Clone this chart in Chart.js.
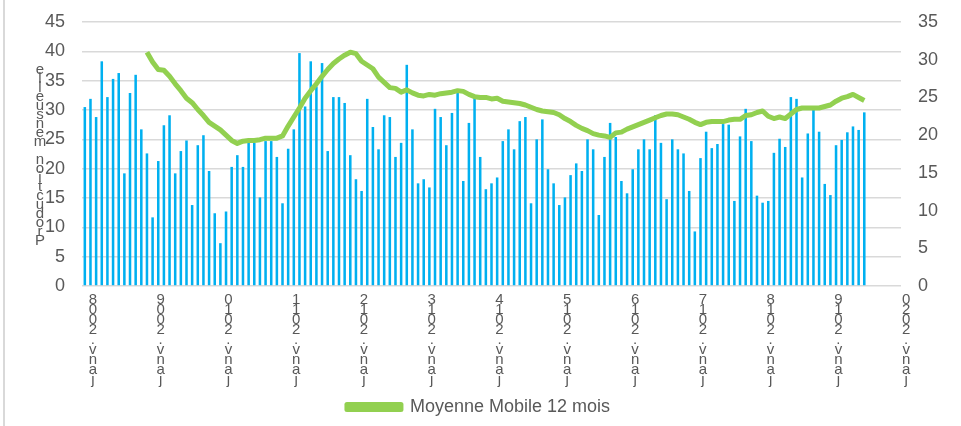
<!DOCTYPE html>
<html>
<head>
<meta charset="utf-8">
<script src="https://cdn.jsdelivr.net/npm/chart.js@4.4.1/dist/chart.umd.min.js"></script>
<style>
  html, body { margin: 0; padding: 0; background: #ffffff; }
  #wrap { position: relative; width: 961px; height: 426px; }
  #edge { position: absolute; left: 3px; top: 0; width: 2px; height: 426px; background: #d9d9d9; }
  canvas { position: absolute; left: 0; top: 0; }
</style>
</head>
<body>
<div id="wrap">
  <canvas id="c" width="961" height="426"></canvas>
  <div id="edge"></div>
</div>
<script>
// ---- data ----
const years = ['2008','2009','2010','2011','2012','2013','2014','2015','2016','2017','2018','2019','2020'];
const months = ['janv.','févr.','mars','avr.','mai','juin','juil.','août','sept.','oct.','nov.','déc.'];
const yTitle = 'Production mensuelle';
const lineLabel = 'Moyenne Mobile 12 mois';
const barLabel = 'Production mensuelle';

// monthly production (left axis), Jan 2008 .. Jul 2019
const production = [
  30.5, 31.9, 28.8, 38.3, 32.2, 35.3, 36.3, 19.2, 32.9, 36.0, 26.7, 22.6,
  11.7, 21.3, 27.4, 29.1, 19.2, 23.0, 24.8, 13.8, 24.0, 25.7, 19.6, 12.4,
  7.3, 12.7, 20.3, 22.3, 20.3, 24.4, 24.4, 15.1, 24.7, 24.7, 22.0, 14.1,
  23.4, 26.7, 39.7, 30.6, 38.3, 34.0, 38.0, 23.0, 32.2, 32.2, 31.2, 22.3,
  18.2, 16.2, 31.9, 27.1, 23.3, 29.1, 28.8, 22.0, 24.4, 37.7, 26.7, 17.5,
  18.2, 16.8, 30.2, 28.8, 24.0, 29.5, 33.0, 17.9, 27.8, 32.0, 22.0, 16.5,
  17.5, 18.5, 24.7, 26.7, 23.3, 28.1, 28.8, 14.1, 25.0, 28.4, 19.9, 17.5,
  13.8, 15.1, 18.9, 20.9, 19.6, 25.0, 23.3, 12.1, 22.0, 27.8, 25.4, 17.9,
  15.8, 19.9, 23.3, 25.0, 23.3, 29.1, 24.4, 14.8, 25.0, 23.3, 22.6, 16.2,
  9.3, 21.8, 26.3, 23.5, 24.2, 27.6, 27.5, 14.5, 25.5, 30.2, 24.7, 15.4,
  14.2, 14.5, 22.7, 25.1, 23.7, 32.2, 31.9, 18.5, 26.0, 30.0, 26.3, 17.4,
  15.5, 24.0, 24.9, 26.2, 27.2, 26.6, 29.6
];

// 12-month moving average (right axis), Dec 2008 .. Jul 2019
const movingAvgStart = 11; // first month index with a value (déc. 2008)
const movingAvg = [
  31.0,
  29.7, 28.7, 28.6, 27.8, 26.8, 25.9, 24.9, 24.3, 23.4, 22.6, 21.7, 21.2,
  20.7, 20.0, 19.3, 18.9, 19.2, 19.3, 19.3, 19.4, 19.6, 19.6, 19.6, 19.9,
  21.2, 22.4, 23.6, 24.9, 25.9, 26.8, 27.8, 28.7, 29.5, 30.1, 30.6, 31.0,
  30.8, 29.8, 29.3, 28.8, 27.7, 27.0, 26.3, 26.2, 25.7, 26.0, 25.6, 25.3,
  25.2, 25.4, 25.3, 25.5, 25.6, 25.7, 25.9, 25.8, 25.4, 25.1, 25.0, 25.0,
  24.8, 24.9, 24.5, 24.4, 24.3, 24.2, 24.0, 23.7, 23.4, 23.2, 23.1, 23.0,
  22.7, 22.2, 21.8, 21.3, 20.9, 20.6, 20.2, 20.0, 19.9, 19.7, 20.3, 20.4,
  20.8, 21.1, 21.4, 21.7, 22.0, 22.3, 22.6, 22.8, 22.8, 22.7, 22.4, 22.1,
  21.7, 21.4, 21.7, 21.8, 21.8, 21.8, 22.0, 22.1, 22.1, 22.6, 22.7, 23.0,
  23.2, 22.5, 22.2, 22.4, 22.2, 22.8, 23.4, 23.6, 23.6, 23.6, 23.6, 23.8,
  24.0, 24.5, 24.9, 25.1, 25.4, 25.0, 24.6
];

const leftTicks = [0, 5, 10, 15, 20, 25, 30, 35, 40, 45];
const rightTicks = [0, 5, 10, 15, 20, 25, 30, 35];

// ---- build categories (janv. 2008 .. janv. 2020) ----
const categories = [];
years.forEach(function (y, yi) {
  months.forEach(function (m, mi) {
    if (yi < years.length - 1 || mi === 0) categories.push(m + y);
  });
});
const lineData = categories.map(function (_, i) {
  const k = i - movingAvgStart;
  return (k >= 0 && k < movingAvg.length) ? movingAvg[k] : null;
});

const GREY = '#595959';
const FONT = '"Liberation Sans", Arial, sans-serif';

const yTitlePlugin = {
  id: 'stackedTitle',
  afterDraw: function (chart) {
    const ctx = chart.ctx;
    ctx.save();
    ctx.font = '15px ' + FONT;
    ctx.fillStyle = GREY;
    ctx.textAlign = 'center';
    ctx.textBaseline = 'alphabetic';
    const chars = yTitle.split('').reverse();
    chars.forEach(function (ch, i) {
      ctx.fillText(ch, 40, 74 + i * 9);
    });
    ctx.restore();
  }
};

function fixVertical(width) {
  return function (scale) {
    scale.width = width;
    scale.paddingTop = 10;
    scale.paddingBottom = 10;
  };
}

new Chart(document.getElementById('c'), {
  data: {
    labels: categories,
    datasets: [
      {
        type: 'bar',
        label: barLabel,
        data: production,
        backgroundColor: '#00b0f0',
        borderWidth: 0,
        barPercentage: 0.45,
        categoryPercentage: 1.0,
        yAxisID: 'y',
        order: 2
      },
      {
        type: 'line',
        label: lineLabel,
        data: lineData,
        borderColor: '#92d050',
        backgroundColor: '#92d050',
        borderWidth: 5,
        pointRadius: 0,
        tension: 0,
        borderJoinStyle: 'round',
        yAxisID: 'y2',
        order: 1
      }
    ]
  },
  options: {
    responsive: false,
    animation: false,
    devicePixelRatio: 1,
    layout: { padding: { left: 16, right: 20, top: 22, bottom: 0 } },
    plugins: {
      tooltip: { enabled: false },
      legend: {
        position: 'bottom',
        labels: {
          filter: function (item) { return item.datasetIndex === 1; },
          boxWidth: 54,
          boxHeight: 5,
          padding: 8,
          color: GREY,
          font: { family: FONT, size: 18 }
        }
      }
    },
    scales: {
      x: {
        type: 'category',
        grid: { display: false, drawTicks: false },
        border: { display: false },
        ticks: {
          autoSkip: false,
          maxRotation: 0,
          minRotation: 0,
          padding: 9,
          labelOffset: 8,
          color: GREY,
          font: { family: FONT, size: 15, lineHeight: '10px' },
          callback: function (v, i) {
            if (i % 12 !== 0) return '';
            return categories[i].split('').reverse();
          }
        },
        afterFit: function (scale) { scale.height = 104; }
      },
      y: {
        position: 'left',
        min: 0,
        max: 45,
        afterBuildTicks: function (scale) { scale.ticks = leftTicks.map(function (v) { return { value: v }; }); },
        afterFit: fixVertical(66),
        grid: { color: '#d9d9d9', lineWidth: 1.6, drawTicks: false },
        border: { display: false },
        ticks: { padding: 17, color: GREY, font: { family: FONT, size: 18 } }
      },
      y2: {
        position: 'right',
        min: 0,
        max: 35,
        afterBuildTicks: function (scale) { scale.ticks = rightTicks.map(function (v) { return { value: v }; }); },
        afterFit: fixVertical(40),
        grid: { display: false, drawTicks: false },
        border: { display: false },
        ticks: { padding: 17, color: GREY, font: { family: FONT, size: 18 } }
      }
    }
  },
  plugins: [yTitlePlugin]
});
</script>
</body>
</html>
